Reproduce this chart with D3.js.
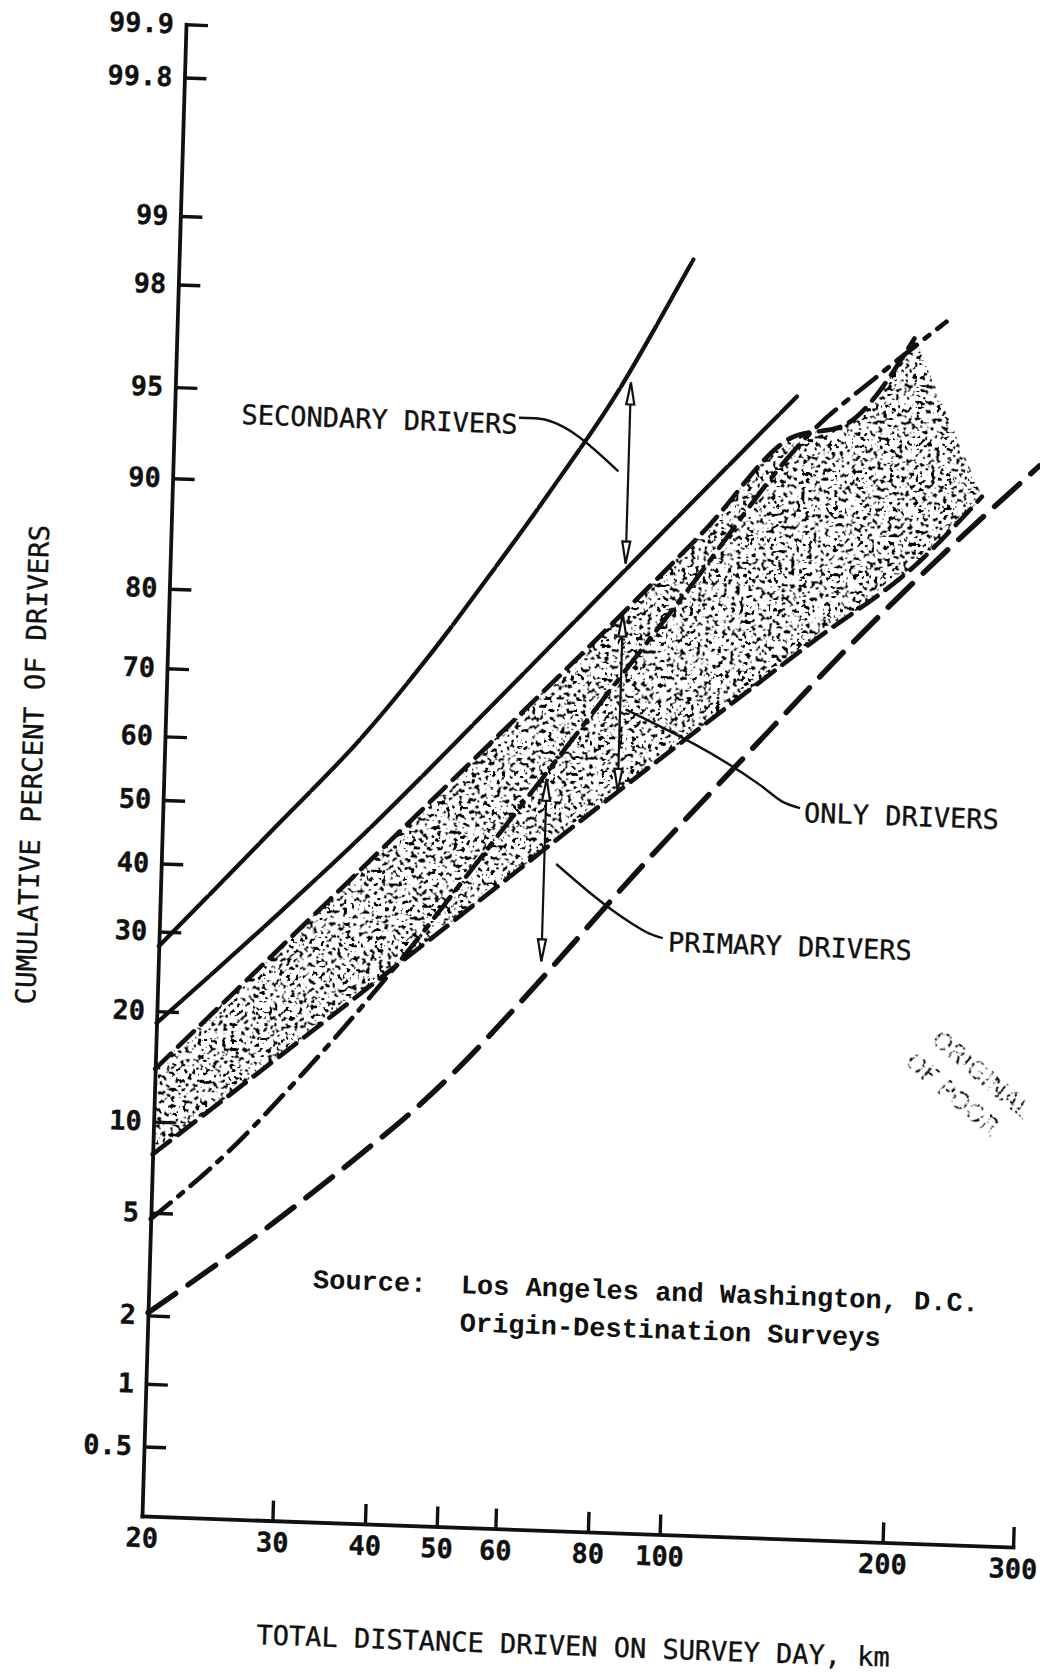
<!DOCTYPE html>
<html>
<head>
<meta charset="utf-8">
<script src="https://cdn.jsdelivr.net/npm/d3@7"></script>
<style>
  html, body { margin: 0; padding: 0; background: #fff; }
  svg { display: block; }
  .lbl { font-family: "DejaVu Sans Mono", "Liberation Mono", monospace; fill: #111; stroke: #111; stroke-width: 0.35; }
  .src { font-family: "Liberation Mono", "Courier New", monospace; fill: #111; font-weight: bold; }
</style>
</head>
<body>
<svg id="chart" width="1040" height="1677"></svg>
<script>
// Cumulative share of drivers by total distance driven on the survey day.
// x: distance in km on a log scale; y: cumulative percent on a normal-probability scale.

const xTicks = [20, 30, 40, 50, 60, 80, 100, 200, 300];
const yTicks = [0.5, 1, 2, 5, 10, 20, 30, 40, 50, 60, 70, 80, 90, 95, 98, 99, 99.8, 99.9];
const yTickLabels = ["0.5", "1", "2", "5", "10", "20", "30", "40", "50", "60", "70", "80", "90", "95", "98", "99", "99.8", "99.9"];

// Each curve: [distance km, cumulative percent of drivers]
const secondaryUpper = [[20, 28], [28.6, 46.7], [37.1, 61.3], [44.9, 72.7], [54.4, 83.0], [65.8, 90.6], [79.7, 95.6], [88.7, 97.5], [98.8, 98.7]];
const secondaryLower = [[20, 18.7], [28.9, 33.1], [37.4, 45.7], [55.1, 66.4], [81.9, 83.5], [138, 95.5]];
const onlyUpper = [[20, 14.2], [45.5, 50.8], [81.4, 78.8], [105.3, 87.6], [136, 93.7], [160.6, 94.4], [197.7, 97.4]];
const onlyLower = [[20, 7.9], [46.1, 30], [82.1, 53.9], [148.3, 76.5], [205.3, 85.5], [247.3, 90.7]];
const primaryUpper = [[20, 4.75], [25.4, 8.3], [31.6, 14.2], [38.0, 21.6], [46.1, 32.2], [49.1, 36.3], [65.4, 56.2], [99.1, 81.4], [145.5, 94.1], [176.7, 96.3], [218, 97.8]];
const primaryLower = [[20, 2.05], [29.7, 4.92], [38.5, 8.5], [43.8, 11.0], [51.5, 15.4], [60.5, 21.6], [90.8, 43.4], [122.7, 60.7], [169.3, 76.9], [219, 86], [295, 92.7]];

// Range arrows: [km, lower %, upper %]
const secondaryArrow = [82.3, 84.3, 95.8];
const onlyArrow = [82, 54, 78.9];
const primaryArrow = [65.7, 27.8, 55.5];

// Leader lines from the group labels
const secondaryLeader = [[58.3, 94.2], [61.3, 94.2], [79.8, 91.5]];
const onlyLeader = [[83.4, 66.5], [128, 55.6], [137, 53.2], [144.7, 52.3]];
const primaryLeader = [[68.2, 42.1], [86.5, 33.6], [91.5, 32.2], [95.6, 31.6]];

// Inverse of the standard normal CDF (Acklam's rational approximation)
function probit(p) {
  const a = [-3.969683028665376e+01, 2.209460984245205e+02, -2.759285104469687e+02, 1.383577518672690e+02, -3.066479806614716e+01, 2.506628277459239e+00];
  const b = [-5.447609879822406e+01, 1.615858368580409e+02, -1.556989798598866e+02, 6.680131188771972e+01, -1.328068155288572e+01];
  const c = [-7.784894002430293e-03, -3.223964580411365e-01, -2.400758277161838e+00, -2.549732539343734e+00, 4.374664141464968e+00, 2.938163982698783e+00];
  const d = [7.784695709041462e-03, 3.224671290700398e-01, 2.445134137142996e+00, 3.754408661907416e+00];
  const pl = 0.02425, ph = 1 - pl;
  let q, r;
  if (p < pl) {
    q = Math.sqrt(-2 * Math.log(p));
    return (((((c[0]*q+c[1])*q+c[2])*q+c[3])*q+c[4])*q+c[5]) / ((((d[0]*q+d[1])*q+d[2])*q+d[3])*q+1);
  }
  if (p <= ph) {
    q = p - 0.5; r = q * q;
    return (((((a[0]*r+a[1])*r+a[2])*r+a[3])*r+a[4])*r+a[5])*q / (((((b[0]*r+b[1])*r+b[2])*r+b[3])*r+b[4])*r+1);
  }
  q = Math.sqrt(-2 * Math.log(1 - p));
  return -(((((c[0]*q+c[1])*q+c[2])*q+c[3])*q+c[4])*q+c[5]) / ((((d[0]*q+d[1])*q+d[2])*q+d[3])*q+1);
}

const X_LEN = 871.6;      // length of the distance axis
const PX_PER_Z = 251.1;   // pixels per standard deviation
const Z_BOTTOM = -2.853;  // probability value at the axis origin
const zTop = probit(0.999);

const x = d3.scaleLog().domain([20, 300]).range([0, X_LEN]);
const y = d3.scaleLinear().domain([Z_BOTTOM, zTop]).range([0, -(zTop - Z_BOTTOM) * PX_PER_Z]);
const px = d => x(d[0]);
const py = d => y(probit(d[1] / 100));
const yp = p => y(probit(p / 100));

const svg = d3.select("#chart");
const defs = svg.append("defs");

// Stipple texture for the band of "only" drivers
const stip = defs.append("filter").attr("id", "stipple")
  .attr("x", "-2%").attr("y", "-2%").attr("width", "104%").attr("height", "104%");
stip.append("feTurbulence").attr("type", "fractalNoise").attr("baseFrequency", 0.24)
  .attr("numOctaves", 2).attr("seed", 11).attr("result", "noise");
stip.append("feColorMatrix").attr("in", "noise").attr("type", "matrix")
  .attr("values", "0 0 0 0 0  0 0 0 0 0  0 0 0 0 0  -18 0 0 0 7.75").attr("result", "dots");
stip.append("feComposite").attr("in", "dots").attr("in2", "SourceGraphic").attr("operator", "in");

// Worn ink for the faded stamp
const worn = defs.append("filter").attr("id", "worn");
worn.append("feTurbulence").attr("type", "fractalNoise").attr("baseFrequency", 0.25)
  .attr("numOctaves", 2).attr("seed", 4).attr("result", "noise");
worn.append("feColorMatrix").attr("in", "noise").attr("type", "matrix")
  .attr("values", "0 0 0 0 0  0 0 0 0 0  0 0 0 0 0  9 0 0 0 -4.2").attr("result", "mask");
worn.append("feComposite").attr("in", "SourceGraphic").attr("in2", "mask").attr("operator", "in");

// Plot frame: origin at the axis corner, slightly skewed like the printed sheet
const frame = svg.append("g")
  .attr("transform", "matrix(0.99937,0.0356,-0.0295,0.99956,142,1516)");

const line = d3.line().x(px).y(py).curve(d3.curveMonotoneX);

// Shaded band between the two "only drivers" curves
const bandTop = line(onlyUpper);
const bandBottom = line(onlyLower.slice().reverse());
frame.append("path")
  .attr("d", bandTop + "L" + bandBottom.slice(1) + "Z")
  .attr("fill", "#000")
  .attr("filter", "url(#stipple)");

const styles = [
  { data: secondaryUpper, width: 4.2, dash: "70 3" },
  { data: secondaryLower, width: 4.2, dash: "70 3" },
  { data: onlyUpper, width: 4.6, dash: "22 10" },
  { data: onlyLower, width: 4.6, dash: "22 10" },
  { data: primaryUpper, width: 4.6, dash: "26 10 6 10" },
  { data: primaryLower, width: 5.4, dash: "34 15" }
];
frame.selectAll("path.curve").data(styles).join("path")
  .attr("class", "curve")
  .attr("d", s => line(s.data))
  .attr("fill", "none")
  .attr("stroke", "#111")
  .attr("stroke-width", s => s.width)
  .attr("stroke-dasharray", s => s.dash)
  .attr("stroke-linecap", "round");

// Range arrows
function rangeArrow(a) {
  const ax = x(a[0]), y1 = yp(a[1]), y2 = yp(a[2]);
  const g = frame.append("g").attr("stroke", "#111").attr("fill", "none").attr("stroke-width", 2.2);
  g.append("line").attr("x1", ax).attr("x2", ax).attr("y1", y1).attr("y2", y2);
  g.append("path").attr("d", `M${ax},${y2}L${ax - 4},${y2 + 22}L${ax + 4},${y2 + 22}Z`).attr("fill", "#fff");
  g.append("path").attr("d", `M${ax},${y1}L${ax - 4},${y1 - 22}L${ax + 4},${y1 - 22}Z`).attr("fill", "#fff");
}
[secondaryArrow, onlyArrow, primaryArrow].forEach(rangeArrow);

// Leader lines
[secondaryLeader, onlyLeader, primaryLeader].forEach(l => {
  frame.append("path").attr("d", line(l))
    .attr("fill", "none").attr("stroke", "#111").attr("stroke-width", 2.4);
});

// Axes
const yAxis = frame.append("g")
  .call(d3.axisLeft(y)
    .tickValues(yTicks.map(p => probit(p / 100)))
    .tickFormat((d, i) => yTickLabels[i])
    .tickSize(-22).tickSizeOuter(0).tickPadding(12));
const xAxis = frame.append("g")
  .call(d3.axisBottom(x)
    .tickValues(xTicks)
    .tickFormat(d3.format("d"))
    .tickSize(-20).tickSizeOuter(0).tickPadding(12));

[yAxis, xAxis].forEach(ax => {
  ax.select(".domain").attr("stroke", "#111").attr("stroke-width", 3.8).attr("stroke-linecap", "square");
  ax.selectAll(".tick line").attr("stroke", "#111").attr("stroke-width", 3.4);
  ax.selectAll(".tick text").attr("class", "lbl").attr("font-size", 27).attr("font-weight", "bold").attr("fill", "#111");
});
xAxis.selectAll(".tick").filter(d => d === 20).select("line").remove();

// Axis titles
frame.append("text").attr("class", "lbl")
  .attr("transform", "translate(-132,-747) rotate(-90)")
  .attr("text-anchor", "middle").attr("dominant-baseline", "central")
  .attr("font-size", 27.5)
  .text("CUMULATIVE PERCENT OF DRIVERS");
frame.append("text").attr("class", "lbl")
  .attr("x", 118).attr("y", 124)
  .attr("font-size", 27)
  .text("TOTAL DISTANCE DRIVEN ON SURVEY DAY, km");

// Group labels
frame.append("text").attr("class", "lbl").attr("x", 67).attr("y", -1095).attr("font-size", 27).text("SECONDARY DRIVERS");
frame.append("text").attr("class", "lbl").attr("x", 641).attr("y", -717).attr("font-size", 27).text("ONLY DRIVERS");
frame.append("text").attr("class", "lbl").attr("x", 509).attr("y", -583).attr("font-size", 27).text("PRIMARY DRIVERS");

// Source note
frame.append("text").attr("class", "src").attr("x", 164).attr("y", -234).attr("font-size", 27).text("Source:");
frame.append("text").attr("class", "src").attr("x", 312).attr("y", -234).attr("font-size", 27).text("Los Angeles and Washington, D.C.");
frame.append("text").attr("class", "src").attr("x", 312).attr("y", -196).attr("font-size", 27).text("Origin-Destination Surveys");

// Faded page stamp
const stamp = svg.append("g").attr("transform", "translate(930,1042) rotate(40)")
  .attr("filter", "url(#worn)");
stamp.append("text").attr("font-family", "DejaVu Sans").attr("font-size", 25).attr("fill", "#111")
  .text("ORIGINAL");
stamp.append("text").attr("font-family", "DejaVu Sans").attr("font-size", 25).attr("fill", "#111")
  .attr("x", -6).attr("y", 34).text("OF POOR");
</script>
</body>
</html>
